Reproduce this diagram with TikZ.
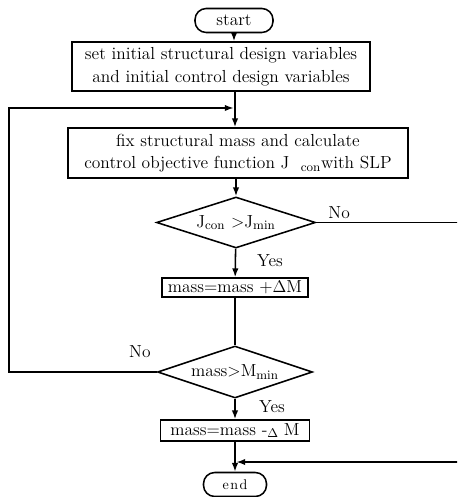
\documentclass[tikz,border=0pt]{standalone}
\usetikzlibrary{shapes.geometric,arrows.meta}
\begin{document}
\begin{tikzpicture}[font=\fontsize{12.4}{16}\selectfont,line width=1.1pt,
		box/.style={draw,rectangle,inner sep=0pt,align=center},
		term/.style={draw,rectangle,rounded corners=0.28cm,inner sep=0pt,minimum width=#1,minimum height=0.6cm},
		test/.style={draw,diamond,aspect=3.1,inner sep=0pt},
		flow/.style={-{Latex[length=2.2mm,width=1.6mm]}}]
				\useasboundingbox (0,0) rectangle (11.425,-12.425);
				\clip (0,0) rectangle (11.425,-12.425);
				\node[term=1.95cm] (start) at (5.85,-0.5125) {start};
				\node[box,minimum width=7.45cm,minimum height=1.225cm] (init) at (5.525,-1.6625)
					{set initial structural design variables\\and initial control design variables};
				\node[box,minimum width=8.5cm,minimum height=1.25cm] (slp) at (5.95,-3.825)
					{fix structural mass and calculate\\control objective function J~~$_{\mathrm{con}}$with SLP};
				\node[test,minimum width=3.975cm,minimum height=1.275cm] (jtest) at (5.9,-5.5625)
					{J$_{\mathrm{con}}$ >J$_{\mathrm{min}}$};
				\node[box,minimum width=3.65cm,minimum height=0.475cm] (inc) at (5.875,-7.1875)
					{mass=mass +$\Delta$M};
				\node[test,minimum width=3.875cm,minimum height=1.3cm] (mtest) at (5.875,-9.3)
					{mass>M$_{\mathrm{min}}$};
				\node[box,minimum width=3.725cm,minimum height=0.525cm] (dec) at (5.875,-10.7625)
					{mass=mass -\raisebox{-2pt}{\small$\Delta$} M};
				\node[term=1.575cm,font=\normalsize] (end) at (5.875,-12.1125) {e\kern1pt n\kern1pt d};
				% joints of the two loops
				\coordinate (loopin) at (5.875,-2.7);
				\coordinate (join) at (5.875,-11.55);
				% main line
				\draw[flow] (start) -- (start |- init.north);
				\draw[flow] (init.south -| loopin) -- (slp.north -| loopin);
				\draw[flow] (slp.south -| jtest) -- (jtest.north);
				\draw[flow] (jtest) -- (inc);
				\draw (inc) -- (mtest.north);
				\draw[flow] (mtest) -- (dec);
				\draw[flow] (dec) -- (end);
				% back loop and exit
				\draw[flow,shorten >=1pt] (mtest.west) -- (0.22,-9.3) -- (0.22,-2.7) -- (loopin);
				\draw[flow,shorten >=1pt] (jtest.east) -- (11.8,-5.5625) -- (11.8,-11.55) -- (join);
				\node[anchor=south west,inner sep=1pt] at ([xshift=0.25cm,yshift=0.05cm]jtest.east) {No};
				\node[anchor=south west,inner sep=1pt] at ([xshift=0.5cm,yshift=0.2cm]inc.north) {Yes};
				\node[anchor=south east,inner sep=1pt] at ([xshift=-0.1cm,yshift=0.3cm]mtest.west) {No};
				\node[anchor=south west,inner sep=1pt] at ([xshift=0.55cm,yshift=0.1cm]dec.north) {Yes};
			\end{tikzpicture}
\end{document}
